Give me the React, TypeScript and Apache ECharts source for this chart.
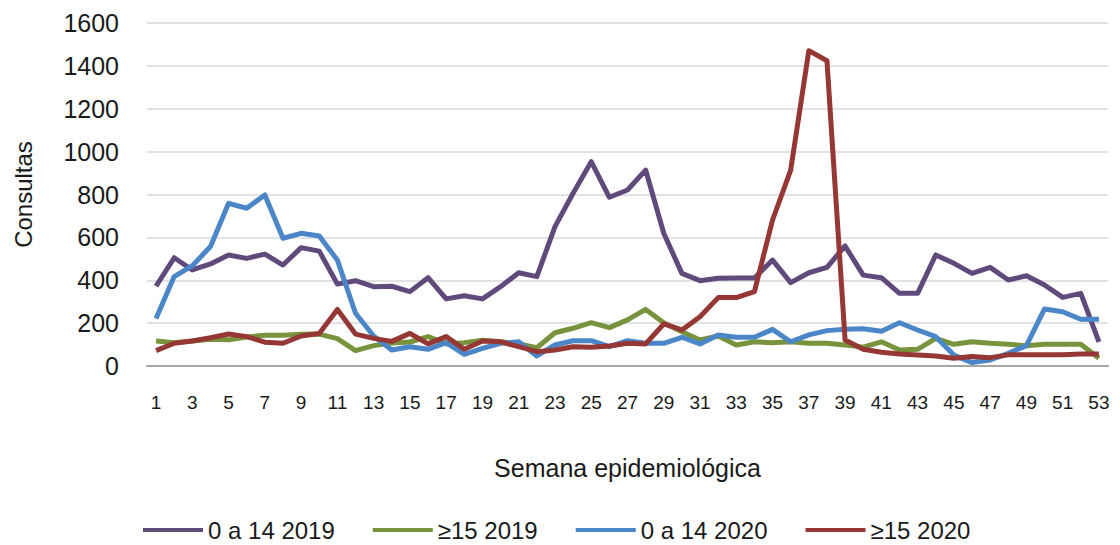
import React, { useEffect, useRef } from "react";
import * as echarts from "echarts";

const weeks: string[] = Array.from({ length: 53 }, (_, i) => String(i + 1));

const seriesNames = ["0 a 14 2019", "≥15 2019", "0 a 14 2020", "≥15 2020"];

const kids2019 = [373, 505, 448, 476, 518, 502, 522, 471, 552, 536, 382, 398, 370, 372, 347, 412, 313, 328, 313, 370, 435, 417, 650, 806, 953, 787, 821, 914, 619, 432, 398, 409, 410, 410, 494, 389, 435, 460, 560, 424, 412, 339, 339, 518, 479, 432, 460, 401, 421, 378, 320, 339, 113];

const adults2019 = [117, 109, 117, 125, 122, 135, 143, 143, 148, 149, 128, 72, 95, 107, 112, 137, 103, 109, 120, 113, 103, 85, 155, 176, 202, 179, 215, 264, 202, 160, 121, 140, 98, 113, 109, 113, 106, 106, 98, 88, 113, 75, 78, 129, 101, 113, 106, 101, 95, 101, 101, 101, 36];

const kids2020 = [222, 417, 468, 557, 759, 736, 798, 596, 619, 606, 494, 246, 140, 75, 90, 78, 109, 54, 82, 106, 113, 47, 98, 118, 118, 90, 118, 106, 106, 134, 103, 145, 134, 134, 171, 113, 145, 165, 171, 174, 162, 202, 168, 137, 51, 16, 28, 59, 95, 266, 253, 218, 218];

const adults2020 = [72, 106, 117, 132, 149, 137, 111, 106, 140, 152, 264, 149, 129, 115, 152, 103, 137, 78, 117, 113, 90, 67, 75, 90, 87, 93, 106, 103, 196, 168, 230, 319, 319, 347, 681, 914, 1471, 1424, 121, 78, 64, 56, 51, 47, 36, 44, 39, 52, 52, 52, 52, 56, 56];

const colors = ["#604a7b", "#77933c", "#4a86c8", "#953735"];

const FONT = "Liberation Sans, Arial, sans-serif";
const TEXT = "#1a1a1a";

export default function App() {
  const ref = useRef<HTMLDivElement>(null);

  useEffect(() => {
    if (!ref.current) return;
    const chart = echarts.init(ref.current, null, { renderer: "svg" });
    const data = [kids2019, adults2019, kids2020, adults2020];
    chart.setOption({
      animation: false,
      backgroundColor: "#ffffff",
      grid: { left: 147, top: 23, width: 961, height: 343, containLabel: false },
      legend: {
        data: seriesNames.map((n, i) => ({ name: n, itemStyle: { color: colors[i] } })),
        left: 143,
        top: 517,
        padding: 0,
        icon: "rect",
        itemWidth: 60,
        itemHeight: 4,
        itemGap: 38,
        textStyle: { fontFamily: FONT, fontSize: 24, color: TEXT, lineHeight: 26 },
      },
      xAxis: {
        type: "category",
        data: weeks,
        boundaryGap: true,
        name: "Semana epidemiológica",
        nameLocation: "middle",
        nameGap: 89,
        nameTextStyle: { fontFamily: FONT, fontSize: 25, color: TEXT },
        axisLine: { lineStyle: { color: "#a6a6a6", width: 2 } },
        axisTick: { show: false },
        axisLabel: { interval: 1, margin: 27, fontFamily: FONT, fontSize: 19, color: TEXT },
        splitLine: { show: false },
      },
      yAxis: {
        type: "value",
        min: 0,
        max: 1600,
        interval: 200,
        name: "Consultas",
        nameLocation: "middle",
        nameRotate: 90,
        nameGap: 112,
        nameTextStyle: { fontFamily: FONT, fontSize: 24, color: TEXT },
        axisLine: { show: false },
        axisTick: { show: false },
        axisLabel: {
          margin: 28,
          fontFamily: FONT,
          fontSize: 25,
          color: TEXT,
          formatter: (v: number) => String(v),
        },
        splitLine: { lineStyle: { color: "#d9d9d9", width: 1.5 } },
      },
      series: seriesNames.map((n, i) => ({
        name: n,
        type: "line",
        data: data[i],
        symbol: "none",
        showSymbol: false,
        lineStyle: { color: colors[i], width: 5, join: "round" },
        itemStyle: { color: colors[i] },
      })),
    });
    return () => chart.dispose();
  }, []);

  return (
    <div
      ref={ref}
      style={{ position: "fixed", left: 0, top: 0, width: 1120, height: 545, background: "#fff" }}
    />
  );
}
